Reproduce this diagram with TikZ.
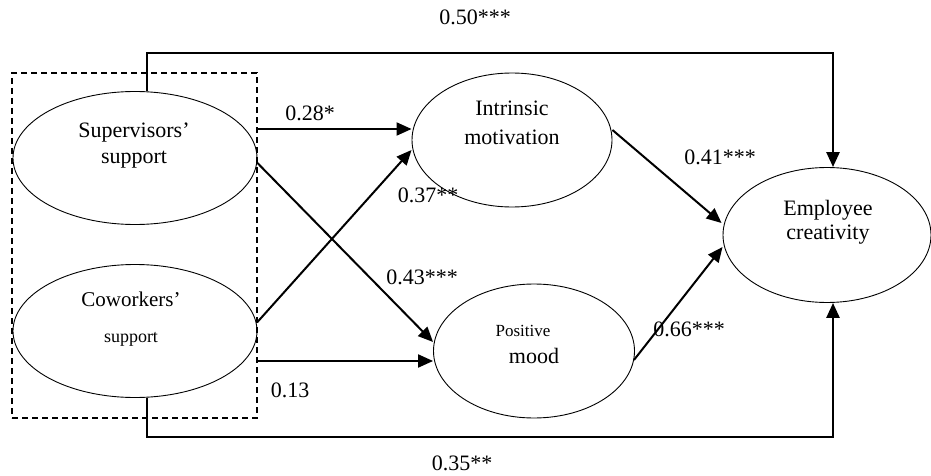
\documentclass[tikz,border=0pt]{standalone}
\usepackage{fontspec}
\setmainfont{Liberation Serif}
\usetikzlibrary{shapes.geometric,arrows.meta,calc}
\tikzset{
  latent/.style={ellipse, draw, line width=0.9pt, inner sep=0pt},
  tip/.style={-{Triangle[length=15pt,width=13pt]}},
  arr/.style={line width=2pt, tip},
  conn/.style={line width=2.6pt, tip},
  coef/.style={font=\fontsize{22}{24}\selectfont, inner sep=0pt},
  big/.style={font=\fontsize{22}{24}\selectfont, inner sep=0pt},
  mid/.style={font=\fontsize{18}{20}\selectfont, inner sep=0pt},
  small/.style={font=\fontsize{17}{19}\selectfont, inner sep=0pt}
}
\begin{document}
\begin{tikzpicture}[x=1pt,y=-1pt]
\useasboundingbox (0,0) rectangle (931,476);
% dashed box
\node[draw, line width=1.8pt, minimum width=245pt, minimum height=345pt, inner sep=0pt, dash pattern=on 6pt off 4pt] (box) at (134.5,245.5) {};
% latent variables
\node[latent, minimum width=244pt, minimum height=133pt] (sup) at (135,158) {};
\node[big] (suptxt) at (134,133) {Supervisors'};
\node[big] (suptxt2) at (134,160) {support};
\node[latent, minimum width=244pt, minimum height=133pt] (cow) at (135,331) {};
\node[big, font=\fontsize{21}{23}\selectfont] (cowtxt) at (131,299) {Coworkers'};
\node[mid] (cowtxt2) at (131,339) {support};
\node[latent, minimum width=200pt, minimum height=134pt] (im) at (512,140) {};
\node[big] (imtxt) at (512,108) {Intrinsic};
\node[big] (imtxt2) at (512,137) {motivation};
\node[latent, minimum width=201pt, minimum height=134pt] (pm) at (534,351) {};
\node[small] (pmtxt) at (523,331) {Positive};
\node[big] (pmtxt2) at (534,356) {mood};
\node[latent, minimum width=208pt, minimum height=135pt] (emp) at (827,235) {};
\node[big] (emptxt) at (828,210) {Employee};
\node[big] (emptxt2) at (828,235) {creativity};
% direct paths
\draw[conn] ($(sup.north)+(12,0)$) -- ++(0,-38) -| ($(emp.north)+(6,0)$);
\draw[conn] ($(cow.south)+(12,0)$) -- ++(0,39) -| ($(emp.south)+(6,0)$);
% structural paths
\draw[arr] (box.east |- 0,129) -- (im.west |- 0,129);
\draw[arr] ($(cow.east)+(0,-9)$) -- ($(im.west)+(0,10)$);
\draw[arr] ($(sup.east)+(0,5)$) -- ($(pm.west)+(0,-9)$);
\draw[arr] (box.east |- 0,361) -- (pm.west |- 0,361);
\draw[arr] ($(im.east)+(0,-10)$) -- ($(emp.west)+(-1,-12)$);
\draw[arr] ($(pm.east)+(-1,9)$) -- ($(emp.west)+(0,12)$);
% coefficients
\node[coef] (c50) at (475,17) {0.50***};
\node[coef] (c28) at (310,113) {0.28*};
\node[coef] (c37) at (428,195) {0.37**};
\node[coef] (c43) at (422,277) {0.43***};
\node[coef] (c41) at (720,157) {0.41***};
\node[coef] (c66) at (689,329) {0.66***};
\node[coef] (c13) at (290,390) {0.13};
\node[coef] (c35) at (462,463) {0.35**};
\end{tikzpicture}
\end{document}
